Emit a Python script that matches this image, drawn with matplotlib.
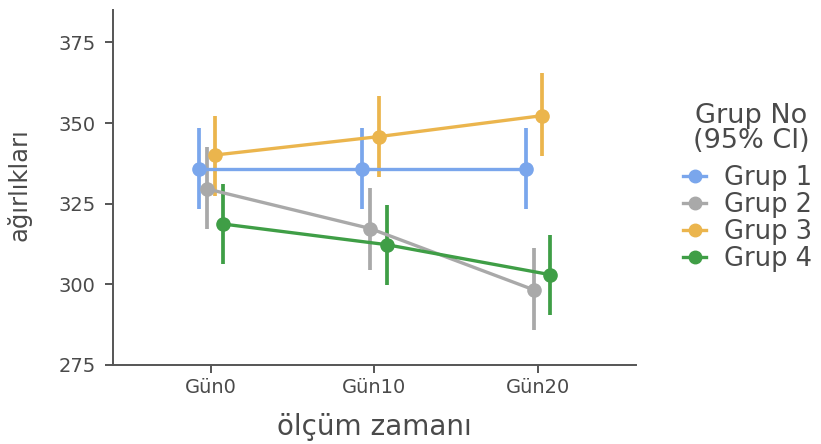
import numpy as np
import matplotlib.pyplot as plt
from matplotlib.lines import Line2D

# ölçüm zamanları ve grup ortalamaları (95% CI alt/üst sınırları)
zamanlar = ['Gün0', 'Gün10', 'Gün20']
gruplar = ['Grup 1', 'Grup 2', 'Grup 3', 'Grup 4']
renkler = ['#7aa6ec', '#a9a9a9', '#ebb54d', '#3f9e46']

ort_g1 = [335.8, 335.8, 335.8]
ort_g2 = [329.6, 317.3, 298.3]
ort_g3 = [340.1, 345.8, 352.3]
ort_g4 = [318.7, 312.3, 303.0]

alt_g1 = [323.4, 323.4, 323.4]
ust_g1 = [348.4, 348.4, 348.4]
alt_g2 = [317.1, 304.4, 285.8]
ust_g2 = [342.5, 329.9, 311.2]
alt_g3 = [327.3, 333.2, 339.9]
ust_g3 = [352.3, 358.5, 365.4]
alt_g4 = [306.3, 299.7, 290.4]
ust_g4 = [331.1, 324.7, 315.4]

ortalamalar = [ort_g1, ort_g2, ort_g3, ort_g4]
altlar = [alt_g1, alt_g2, alt_g3, alt_g4]
ustler = [ust_g1, ust_g2, ust_g3, ust_g4]

yazi = '#4a4a4a'
plt.rcParams['font.family'] = 'DejaVu Sans'

W, H = 821, 444
fig = plt.figure(figsize=(W / 100, H / 100), dpi=100, facecolor='white')
ax = fig.add_axes([0.1376, 0.178, 0.637, 0.799])

x = np.arange(len(zamanlar))
kaydir = np.linspace(-0.075, 0.075, len(gruplar))

for i, grup in enumerate(gruplar):
    xs = x + kaydir[i]
    ort = np.array(ortalamalar[i])
    err = [ort - np.array(altlar[i]), np.array(ustler[i]) - ort]
    ax.errorbar(xs, ort, yerr=err, color=renkler[i], lw=2.4, elinewidth=2.7,
                marker='o', markersize=9.5, capsize=0, zorder=3)

ax.set_xticks(x)
ax.set_xticklabels(zamanlar)
ax.set_xlim(-0.6, 2.6)
ax.set_ylim(275, 385)
ax.set_yticks([275, 300, 325, 350, 375])

for s in ['top', 'right']:
    ax.spines[s].set_visible(False)
for s in ['left', 'bottom']:
    ax.spines[s].set_color('#555555')
    ax.spines[s].set_linewidth(1.4)
ax.tick_params(axis='both', colors='#555555', labelcolor=yazi, labelsize=14,
               length=5.5, width=1.4)
ax.tick_params(axis='y', pad=7)
ax.tick_params(axis='x', pad=4)

ax.set_xlabel('ölçüm zamanı', fontsize=20, color=yazi, va='baseline')
ax.set_ylabel('ağırlıkları', fontsize=17.5, color=yazi, va='baseline')
ax.xaxis.set_label_coords(0.5, -0.197)
ax.yaxis.set_label_coords(-0.1644, 0.507)

# lejant başlığı (iki satır, ortalanmış)
fig.text(751 / W, 1 - 123 / H, 'Grup No', fontsize=19.5, color=yazi,
         ha='center', va='baseline')
fig.text(751 / W, 1 - 148 / H, '(95% CI)', fontsize=19.5, color=yazi,
         ha='center', va='baseline')

# lejant: sadece çizgi + nokta
tutamaclar = [Line2D([], [], color=c, lw=2.4, marker='o', markersize=9)
              for c in renkler]
leg = fig.legend(tutamaclar, gruplar, loc='center left',
                 bbox_to_anchor=(673 / W, 1 - 218.5 / H),
                 bbox_transform=fig.transFigure, borderaxespad=0,
                 frameon=False, fontsize=18.5,
                 handlelength=0.9, handletextpad=0.7, labelspacing=0.04)
for t in leg.get_texts():
    t.set_color(yazi)

fig.savefig('out.png', dpi=100, facecolor='white')
